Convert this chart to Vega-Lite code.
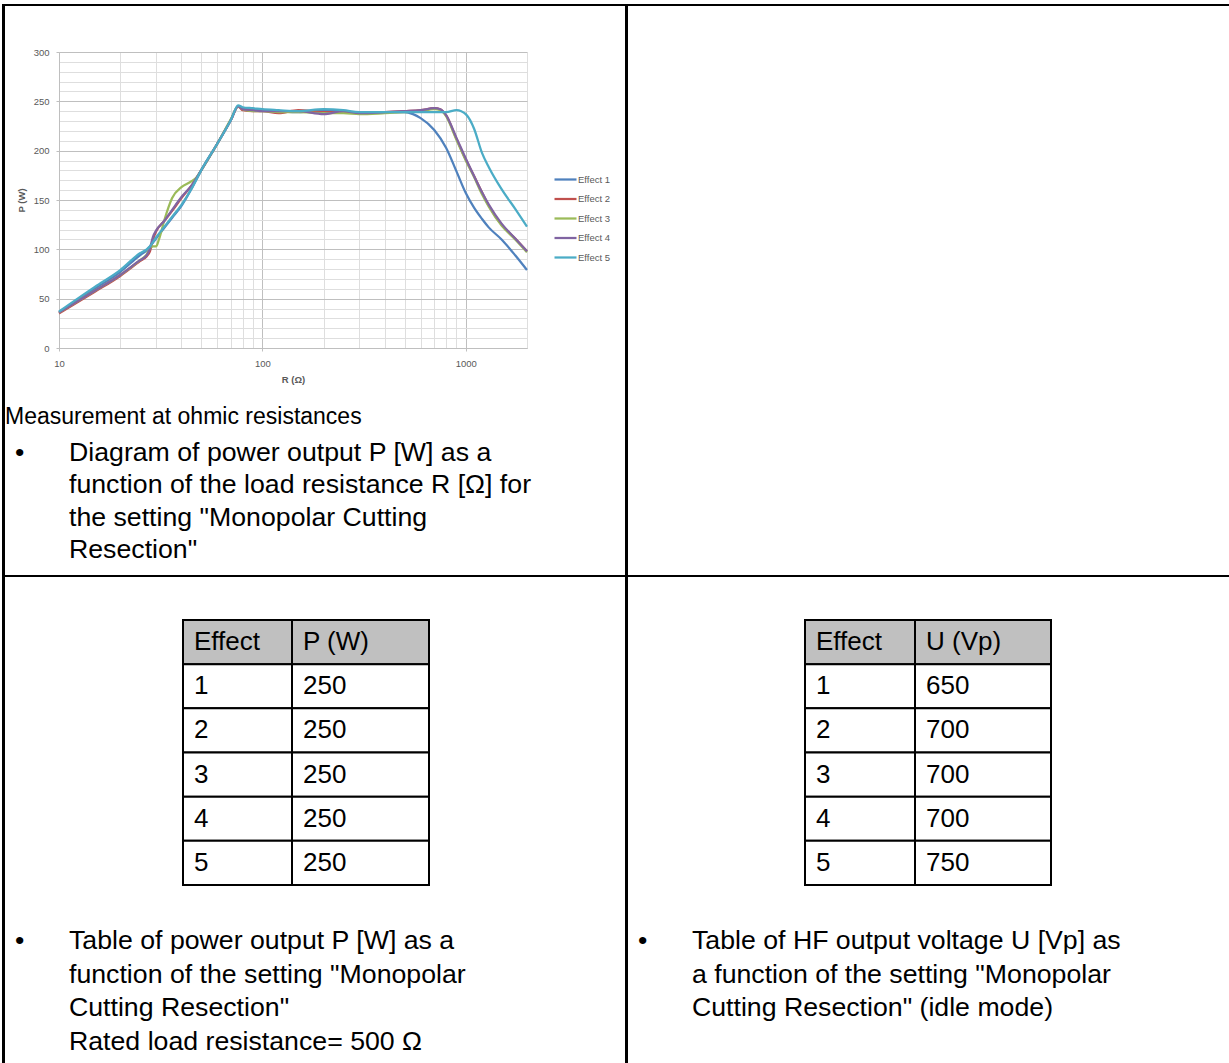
{
 "$schema": "https://vega.github.io/schema/vega-lite/v6.json",
 "background": "#ffffff",
 "padding": {"left": 2, "top": 4, "right": 0, "bottom": 0},
 "spacing": 0,
 "bounds": "full",
 "config": {"view": {"stroke": null}, "font": "Liberation Sans", "concat": {"spacing": 0}, "text": {"font": "Liberation Sans"}},
 "datasets": {
  "curves": [
   {"e":"Effect 1","R":10,"P":36},{"e":"Effect 1","R":15,"P":60},{"e":"Effect 1","R":20,"P":77},{"e":"Effect 1","R":25,"P":94},{"e":"Effect 1","R":27,"P":99},{"e":"Effect 1","R":28,"P":103},{"e":"Effect 1","R":30,"P":111},{"e":"Effect 1","R":33,"P":122},{"e":"Effect 1","R":36,"P":132},{"e":"Effect 1","R":40,"P":144},{"e":"Effect 1","R":45,"P":162},{"e":"Effect 1","R":50,"P":180},{"e":"Effect 1","R":60,"P":207},{"e":"Effect 1","R":70,"P":231},{"e":"Effect 1","R":76,"P":245},{"e":"Effect 1","R":80,"P":243},{"e":"Effect 1","R":90,"P":242},{"e":"Effect 1","R":100,"P":241},{"e":"Effect 1","R":120,"P":240},{"e":"Effect 1","R":150,"P":239},{"e":"Effect 1","R":200,"P":241},{"e":"Effect 1","R":250,"P":240},{"e":"Effect 1","R":300,"P":238},{"e":"Effect 1","R":400,"P":239},{"e":"Effect 1","R":500,"P":239},{"e":"Effect 1","R":550,"P":237},{"e":"Effect 1","R":600,"P":233},{"e":"Effect 1","R":700,"P":221},{"e":"Effect 1","R":800,"P":203},{"e":"Effect 1","R":900,"P":179},{"e":"Effect 1","R":1000,"P":157},{"e":"Effect 1","R":1100,"P":142},{"e":"Effect 1","R":1200,"P":131},{"e":"Effect 1","R":1300,"P":122},{"e":"Effect 1","R":1500,"P":110},{"e":"Effect 1","R":1750,"P":94},{"e":"Effect 1","R":2000,"P":79},
   {"e":"Effect 2","R":10,"P":35},{"e":"Effect 2","R":15,"P":57},{"e":"Effect 2","R":20,"P":73},{"e":"Effect 2","R":25,"P":88},{"e":"Effect 2","R":27,"P":93},{"e":"Effect 2","R":28,"P":98},{"e":"Effect 2","R":29,"P":110},{"e":"Effect 2","R":30,"P":118},{"e":"Effect 2","R":33,"P":129},{"e":"Effect 2","R":36,"P":139},{"e":"Effect 2","R":40,"P":152},{"e":"Effect 2","R":45,"P":165},{"e":"Effect 2","R":50,"P":180},{"e":"Effect 2","R":60,"P":207},{"e":"Effect 2","R":70,"P":231},{"e":"Effect 2","R":76,"P":245},{"e":"Effect 2","R":80,"P":241},{"e":"Effect 2","R":90,"P":240},{"e":"Effect 2","R":100,"P":240},{"e":"Effect 2","R":120,"P":238},{"e":"Effect 2","R":150,"P":241},{"e":"Effect 2","R":200,"P":239},{"e":"Effect 2","R":250,"P":239},{"e":"Effect 2","R":300,"P":238},{"e":"Effect 2","R":400,"P":239},{"e":"Effect 2","R":500,"P":240},{"e":"Effect 2","R":600,"P":241},{"e":"Effect 2","R":700,"P":243},{"e":"Effect 2","R":750,"P":242},{"e":"Effect 2","R":800,"P":236},{"e":"Effect 2","R":900,"P":212},{"e":"Effect 2","R":1000,"P":191},{"e":"Effect 2","R":1100,"P":174},{"e":"Effect 2","R":1200,"P":158},{"e":"Effect 2","R":1300,"P":144},{"e":"Effect 2","R":1500,"P":125},{"e":"Effect 2","R":1750,"P":111},{"e":"Effect 2","R":2000,"P":98},
   {"e":"Effect 3","R":10,"P":36},{"e":"Effect 3","R":15,"P":58},{"e":"Effect 3","R":20,"P":74},{"e":"Effect 3","R":25,"P":89},{"e":"Effect 3","R":27,"P":95},{"e":"Effect 3","R":28,"P":101},{"e":"Effect 3","R":29,"P":103},{"e":"Effect 3","R":30,"P":103},{"e":"Effect 3","R":31,"P":110},{"e":"Effect 3","R":33,"P":130},{"e":"Effect 3","R":36,"P":152},{"e":"Effect 3","R":40,"P":163},{"e":"Effect 3","R":44,"P":168},{"e":"Effect 3","R":47,"P":172},{"e":"Effect 3","R":50,"P":180},{"e":"Effect 3","R":60,"P":207},{"e":"Effect 3","R":70,"P":232},{"e":"Effect 3","R":76,"P":245},{"e":"Effect 3","R":80,"P":242},{"e":"Effect 3","R":90,"P":240},{"e":"Effect 3","R":100,"P":240},{"e":"Effect 3","R":120,"P":239},{"e":"Effect 3","R":150,"P":239},{"e":"Effect 3","R":200,"P":238},{"e":"Effect 3","R":250,"P":238},{"e":"Effect 3","R":300,"P":237},{"e":"Effect 3","R":400,"P":238},{"e":"Effect 3","R":500,"P":239},{"e":"Effect 3","R":600,"P":240},{"e":"Effect 3","R":700,"P":242},{"e":"Effect 3","R":750,"P":241},{"e":"Effect 3","R":800,"P":235},{"e":"Effect 3","R":900,"P":211},{"e":"Effect 3","R":1000,"P":190},{"e":"Effect 3","R":1100,"P":173},{"e":"Effect 3","R":1200,"P":156},{"e":"Effect 3","R":1300,"P":143},{"e":"Effect 3","R":1500,"P":124},{"e":"Effect 3","R":1750,"P":110},{"e":"Effect 3","R":2000,"P":97},
   {"e":"Effect 4","R":10,"P":36},{"e":"Effect 4","R":15,"P":58},{"e":"Effect 4","R":20,"P":74},{"e":"Effect 4","R":25,"P":89},{"e":"Effect 4","R":27,"P":94},{"e":"Effect 4","R":28,"P":101},{"e":"Effect 4","R":29,"P":113},{"e":"Effect 4","R":30,"P":119},{"e":"Effect 4","R":33,"P":129},{"e":"Effect 4","R":36,"P":140},{"e":"Effect 4","R":40,"P":153},{"e":"Effect 4","R":45,"P":165},{"e":"Effect 4","R":50,"P":180},{"e":"Effect 4","R":60,"P":207},{"e":"Effect 4","R":70,"P":231},{"e":"Effect 4","R":76,"P":245},{"e":"Effect 4","R":80,"P":242},{"e":"Effect 4","R":90,"P":241},{"e":"Effect 4","R":100,"P":240},{"e":"Effect 4","R":120,"P":240},{"e":"Effect 4","R":150,"P":240},{"e":"Effect 4","R":200,"P":237},{"e":"Effect 4","R":250,"P":240},{"e":"Effect 4","R":300,"P":238},{"e":"Effect 4","R":400,"P":239},{"e":"Effect 4","R":500,"P":240},{"e":"Effect 4","R":600,"P":241},{"e":"Effect 4","R":700,"P":243},{"e":"Effect 4","R":750,"P":242},{"e":"Effect 4","R":800,"P":236},{"e":"Effect 4","R":900,"P":213},{"e":"Effect 4","R":1000,"P":192},{"e":"Effect 4","R":1100,"P":174},{"e":"Effect 4","R":1200,"P":158},{"e":"Effect 4","R":1300,"P":145},{"e":"Effect 4","R":1500,"P":126},{"e":"Effect 4","R":1750,"P":111},{"e":"Effect 4","R":2000,"P":98},
   {"e":"Effect 5","R":10,"P":37},{"e":"Effect 5","R":15,"P":62},{"e":"Effect 5","R":20,"P":79},{"e":"Effect 5","R":25,"P":96},{"e":"Effect 5","R":27,"P":100},{"e":"Effect 5","R":28,"P":103},{"e":"Effect 5","R":30,"P":112},{"e":"Effect 5","R":33,"P":123},{"e":"Effect 5","R":36,"P":133},{"e":"Effect 5","R":40,"P":145},{"e":"Effect 5","R":45,"P":162},{"e":"Effect 5","R":50,"P":180},{"e":"Effect 5","R":60,"P":207},{"e":"Effect 5","R":70,"P":231},{"e":"Effect 5","R":76,"P":246},{"e":"Effect 5","R":80,"P":244},{"e":"Effect 5","R":90,"P":243},{"e":"Effect 5","R":100,"P":242},{"e":"Effect 5","R":120,"P":241},{"e":"Effect 5","R":150,"P":240},{"e":"Effect 5","R":200,"P":242},{"e":"Effect 5","R":250,"P":241},{"e":"Effect 5","R":300,"P":239},{"e":"Effect 5","R":400,"P":239},{"e":"Effect 5","R":500,"P":239},{"e":"Effect 5","R":600,"P":239},{"e":"Effect 5","R":700,"P":239},{"e":"Effect 5","R":800,"P":239},{"e":"Effect 5","R":900,"P":241},{"e":"Effect 5","R":950,"P":240},{"e":"Effect 5","R":1000,"P":237},{"e":"Effect 5","R":1050,"P":231},{"e":"Effect 5","R":1100,"P":222},{"e":"Effect 5","R":1200,"P":198},{"e":"Effect 5","R":1300,"P":183},{"e":"Effect 5","R":1500,"P":161},{"e":"Effect 5","R":1750,"P":141},{"e":"Effect 5","R":2000,"P":123}
  ],
  "tP": [{"row":0,"c1":"Effect","c2":"P (W)"},{"row":1,"c1":"1","c2":"250"},{"row":2,"c1":"2","c2":"250"},{"row":3,"c1":"3","c2":"250"},{"row":4,"c1":"4","c2":"250"},{"row":5,"c1":"5","c2":"250"}],
  "tU": [{"row":0,"c1":"Effect","c2":"U (Vp)"},{"row":1,"c1":"1","c2":"650"},{"row":2,"c1":"2","c2":"700"},{"row":3,"c1":"3","c2":"700"},{"row":4,"c1":"4","c2":"700"},{"row":5,"c1":"5","c2":"750"}]
 },
 "vconcat": [
  {"width": 1227, "height": 2, "data": {"values": []}, "mark": "point", "encoding": {}, "view": {"fill": "#000000", "stroke": null}},
  {"hconcat": [
    {"width": 3, "height": 395, "data": {"values": []}, "mark": "point", "encoding": {}, "view": {"fill": "#000000", "stroke": null}},
    {"width": 54, "height": 395, "data": {"values": []}, "mark": "point", "encoding": {}},
    {"width": 468, "height": 342,
     "data": {"name": "curves"},
     "layer": [
      {"mark": {"type": "line", "interpolate": "monotone", "strokeWidth": 2.25},
       "encoding": {
        "x": {"field": "R", "type": "quantitative",
              "scale": {"type": "log", "domain": [10, 2000], "nice": false},
              "axis": {"orient": "top", "title": null, "labels": false, "ticks": false, "domain": false, "grid": true,
                       "values": [10,20,30,40,50,60,70,80,90,100,200,300,400,500,600,700,800,900,1000,2000],
                       "gridColor": {"condition": {"test": "datum.value == 10 || datum.value == 100 || datum.value == 1000", "value": "#bfbfbf"}, "value": "#dedede"}}},
        "y": {"field": "P", "type": "quantitative",
              "scale": {"domain": [0, 300], "nice": false, "range": [342, 46]},
              "axis": {"title": "P (W)", "titleFontSize": 9.5, "titleFontWeight": "bold", "titleColor": "#595959", "titlePadding": 7,
                       "values": [0,10,20,30,40,50,60,70,80,90,100,110,120,130,140,150,160,170,180,190,200,210,220,230,240,250,260,270,280,290,300],
                       "labelExpr": "datum.value % 50 == 0 ? datum.label : ''",
                       "labelFontSize": 9.5, "labelColor": "#595959", "labelPadding": 7, "labelOverlap": false, "labelFlush": false,
                       "tickSize": 3, "tickColor": {"condition": {"test": "datum.value % 50 == 0", "value": "#bfbfbf"}, "value": "transparent"},
                       "domainColor": "#bfbfbf", "grid": true,
                       "gridColor": {"condition": {"test": "datum.value % 50 == 0", "value": "#bfbfbf"}, "value": "#dedede"}}},
        "color": {"field": "e", "type": "nominal",
                  "scale": {"domain": ["Effect 1","Effect 2","Effect 3","Effect 4","Effect 5"], "range": ["#4F81BD","#C0504D","#9BBB59","#8064A2","#4BACC6"]},
                  "legend": {"orient": "none", "legendX": 551, "legendY": 163, "title": null, "padding": 0,
                             "symbolType": "stroke", "symbolSize": 484, "symbolStrokeWidth": 2.25,
                             "labelFontSize": 9.5, "labelColor": "#595959", "labelOffset": 0, "rowPadding": 2.5}}
       }},
      {"mark": {"type": "point", "opacity": 0},
       "encoding": {
        "x": {"field": "R", "type": "quantitative",
              "axis": {"orient": "bottom", "title": "R (Ω)", "titleFontSize": 9.5, "titleFontWeight": "bold", "titleColor": "#595959", "titlePadding": 7,
                       "values": [10,20,30,40,50,60,70,80,90,100,200,300,400,500,600,700,800,900,1000,2000],
                       "format": "d", "grid": false,
                       "labelExpr": "(datum.value == 10 || datum.value == 100 || datum.value == 1000) ? datum.label : ''",
                       "labelFontSize": 9.5, "labelColor": "#595959", "labelPadding": 7, "labelFlush": false, "labelOverlap": false,
                       "tickSize": 3, "tickColor": {"condition": {"test": "datum.value == 10 || datum.value == 100 || datum.value == 1000", "value": "#bfbfbf"}, "value": "transparent"},
                       "domainColor": "#bfbfbf"}},
        "y": {"field": "P", "type": "quantitative",
              "axis": {"title": "P (W)", "titleFontSize": 9.5, "titleFontWeight": "bold", "titleColor": "#595959", "titlePadding": 7,
                       "values": [0,10,20,30,40,50,60,70,80,90,100,110,120,130,140,150,160,170,180,190,200,210,220,230,240,250,260,270,280,290,300],
                       "labelExpr": "datum.value % 50 == 0 ? datum.label : ''",
                       "labelFontSize": 9.5, "labelColor": "#595959", "labelPadding": 7, "labelOverlap": false, "labelFlush": false,
                       "tickSize": 3, "tickColor": {"condition": {"test": "datum.value % 50 == 0", "value": "#bfbfbf"}, "value": "transparent"},
                       "domainColor": "#bfbfbf", "grid": true,
                       "gridColor": {"condition": {"test": "datum.value % 50 == 0", "value": "#bfbfbf"}, "value": "#dedede"}}}
       }}
     ],
     "resolve": {"axis": {"x": "independent"}}},
    {"width": 98, "height": 395, "data": {"values": []}, "mark": "point", "encoding": {}},
    {"width": 3, "height": 395, "data": {"values": []}, "mark": "point", "encoding": {}, "view": {"fill": "#000000", "stroke": null}},
    {"width": 601, "height": 395, "data": {"values": []}, "mark": "point", "encoding": {}}
  ], "spacing": 0, "bounds": "flush"},
  {"hconcat": [
    {"width": 3, "height": 36, "data": {"values": []}, "mark": "point", "encoding": {}, "view": {"fill": "#000000", "stroke": null}},
    {"width": 620, "height": 32,
     "data": {"values": [{"line": 1, "t": "Measurement at ohmic resistances"}]},
     "mark": {"type": "text", "align": "left", "baseline": "middle", "fontSize": 23, "color": "#000000"},
     "encoding": {"x": {"value": 0}, "y": {"field": "line", "type": "ordinal", "axis": null, "scale": {"type": "point", "padding": 0.5}}, "text": {"field": "t"}}},
    {"width": 3, "height": 36, "data": {"values": []}, "mark": "point", "encoding": {}, "view": {"fill": "#000000", "stroke": null}},
    {"width": 601, "height": 36, "data": {"values": []}, "mark": "point", "encoding": {}}
  ], "spacing": 0, "bounds": "flush"},
  {"hconcat": [
    {"width": 3, "height": 138, "data": {"values": []}, "mark": "point", "encoding": {}, "view": {"fill": "#000000", "stroke": null}},
    {"width": 10, "height": 138, "data": {"values": []}, "mark": "point", "encoding": {}},
    {"width": 54, "height": 32,
     "data": {"values": [{"line": 1, "t": "•"}]},
     "mark": {"type": "text", "align": "left", "baseline": "middle", "fontSize": 26.7, "color": "#000000"},
     "encoding": {"x": {"value": 0}, "y": {"field": "line", "type": "ordinal", "axis": null, "scale": {"type": "point", "padding": 0.5}}, "text": {"field": "t"}}},
    {"width": 556, "height": 129,
     "data": {"values": [
       {"line": 1, "t": "Diagram of power output P [W] as a"},
       {"line": 2, "t": "function of the load resistance R [Ω] for"},
       {"line": 3, "t": "the setting \"Monopolar Cutting"},
       {"line": 4, "t": "Resection\""}]},
     "mark": {"type": "text", "align": "left", "baseline": "middle", "fontSize": 26.7, "color": "#000000"},
     "encoding": {"x": {"value": 0}, "y": {"field": "line", "type": "ordinal", "axis": null, "scale": {"type": "point", "padding": 0.5}}, "text": {"field": "t"}}},
    {"width": 3, "height": 138, "data": {"values": []}, "mark": "point", "encoding": {}, "view": {"fill": "#000000", "stroke": null}},
    {"width": 601, "height": 138, "data": {"values": []}, "mark": "point", "encoding": {}}
  ], "spacing": 0, "bounds": "flush"},
  {"width": 1227, "height": 2, "data": {"values": []}, "mark": "point", "encoding": {}, "view": {"fill": "#000000", "stroke": null}},
  {"hconcat": [
    {"width": 3, "height": 347, "data": {"values": []}, "mark": "point", "encoding": {}, "view": {"fill": "#000000", "stroke": null}},
    {"width": 178, "height": 347, "data": {"values": []}, "mark": "point", "encoding": {}},
    {"width": 109, "height": 308, "data": {"name": "tP"},
     "layer": [
      {"mark": {"type": "rect", "stroke": "#000000", "strokeWidth": 2},
       "encoding": {"x": {"value": 0}, "x2": {"value": "width"}, "y": {"field": "row", "type": "ordinal", "axis": null, "scale": {"range": [43, 308], "paddingInner": 0, "paddingOuter": 0}},
                    "fill": {"condition": {"test": "datum.row == 0", "value": "#c0c0c0"}, "value": "#ffffff"}}},
      {"mark": {"type": "text", "align": "left", "baseline": "middle", "dx": 11, "fontSize": 26, "color": "#000000"},
       "encoding": {"x": {"value": 0}, "y": {"field": "row", "type": "ordinal", "axis": null}, "text": {"field": "c1"}}}
     ]},
    {"width": 137, "height": 308, "data": {"name": "tP"},
     "layer": [
      {"mark": {"type": "rect", "stroke": "#000000", "strokeWidth": 2},
       "encoding": {"x": {"value": 0}, "x2": {"value": "width"}, "y": {"field": "row", "type": "ordinal", "axis": null, "scale": {"range": [43, 308], "paddingInner": 0, "paddingOuter": 0}},
                    "fill": {"condition": {"test": "datum.row == 0", "value": "#c0c0c0"}, "value": "#ffffff"}}},
      {"mark": {"type": "text", "align": "left", "baseline": "middle", "dx": 11, "fontSize": 26, "color": "#000000"},
       "encoding": {"x": {"value": 0}, "y": {"field": "row", "type": "ordinal", "axis": null}, "text": {"field": "c2"}}}
     ]},
    {"width": 196, "height": 347, "data": {"values": []}, "mark": "point", "encoding": {}},
    {"width": 3, "height": 347, "data": {"values": []}, "mark": "point", "encoding": {}, "view": {"fill": "#000000", "stroke": null}},
    {"width": 177, "height": 347, "data": {"values": []}, "mark": "point", "encoding": {}},
    {"width": 110, "height": 308, "data": {"name": "tU"},
     "layer": [
      {"mark": {"type": "rect", "stroke": "#000000", "strokeWidth": 2},
       "encoding": {"x": {"value": 0}, "x2": {"value": "width"}, "y": {"field": "row", "type": "ordinal", "axis": null, "scale": {"range": [43, 308], "paddingInner": 0, "paddingOuter": 0}},
                    "fill": {"condition": {"test": "datum.row == 0", "value": "#c0c0c0"}, "value": "#ffffff"}}},
      {"mark": {"type": "text", "align": "left", "baseline": "middle", "dx": 11, "fontSize": 26, "color": "#000000"},
       "encoding": {"x": {"value": 0}, "y": {"field": "row", "type": "ordinal", "axis": null}, "text": {"field": "c1"}}}
     ]},
    {"width": 136, "height": 308, "data": {"name": "tU"},
     "layer": [
      {"mark": {"type": "rect", "stroke": "#000000", "strokeWidth": 2},
       "encoding": {"x": {"value": 0}, "x2": {"value": "width"}, "y": {"field": "row", "type": "ordinal", "axis": null, "scale": {"range": [43, 308], "paddingInner": 0, "paddingOuter": 0}},
                    "fill": {"condition": {"test": "datum.row == 0", "value": "#c0c0c0"}, "value": "#ffffff"}}},
      {"mark": {"type": "text", "align": "left", "baseline": "middle", "dx": 11, "fontSize": 26, "color": "#000000"},
       "encoding": {"x": {"value": 0}, "y": {"field": "row", "type": "ordinal", "axis": null}, "text": {"field": "c2"}}}
     ]},
    {"width": 175, "height": 347, "data": {"values": []}, "mark": "point", "encoding": {}}
  ], "spacing": 0, "bounds": "flush"},
  {"hconcat": [
    {"width": 3, "height": 145, "data": {"values": []}, "mark": "point", "encoding": {}, "view": {"fill": "#000000", "stroke": null}},
    {"width": 10, "height": 145, "data": {"values": []}, "mark": "point", "encoding": {}},
    {"width": 54, "height": 34,
     "data": {"values": [{"line": 1, "t": "•"}]},
     "mark": {"type": "text", "align": "left", "baseline": "middle", "fontSize": 26.7, "color": "#000000"},
     "encoding": {"x": {"value": 0}, "y": {"field": "line", "type": "ordinal", "axis": null, "scale": {"type": "point", "padding": 0.5}}, "text": {"field": "t"}}},
    {"width": 556, "height": 135,
     "data": {"values": [
       {"line": 1, "t": "Table of power output P [W] as a"},
       {"line": 2, "t": "function of the setting \"Monopolar"},
       {"line": 3, "t": "Cutting Resection\""},
       {"line": 4, "t": "Rated load resistance= 500 Ω"}]},
     "mark": {"type": "text", "align": "left", "baseline": "middle", "fontSize": 26.7, "color": "#000000"},
     "encoding": {"x": {"value": 0}, "y": {"field": "line", "type": "ordinal", "axis": null, "scale": {"type": "point", "padding": 0.5}}, "text": {"field": "t"}}},
    {"width": 3, "height": 145, "data": {"values": []}, "mark": "point", "encoding": {}, "view": {"fill": "#000000", "stroke": null}},
    {"width": 10, "height": 145, "data": {"values": []}, "mark": "point", "encoding": {}},
    {"width": 54, "height": 34,
     "data": {"values": [{"line": 1, "t": "•"}]},
     "mark": {"type": "text", "align": "left", "baseline": "middle", "fontSize": 26.7, "color": "#000000"},
     "encoding": {"x": {"value": 0}, "y": {"field": "line", "type": "ordinal", "axis": null, "scale": {"type": "point", "padding": 0.5}}, "text": {"field": "t"}}},
    {"width": 534, "height": 101,
     "data": {"values": [
       {"line": 1, "t": "Table of HF output voltage U [Vp] as"},
       {"line": 2, "t": "a function of the setting \"Monopolar"},
       {"line": 3, "t": "Cutting Resection\" (idle mode)"}]},
     "mark": {"type": "text", "align": "left", "baseline": "middle", "fontSize": 26.7, "color": "#000000"},
     "encoding": {"x": {"value": 0}, "y": {"field": "line", "type": "ordinal", "axis": null, "scale": {"type": "point", "padding": 0.5}}, "text": {"field": "t"}}}
  ], "spacing": 0, "bounds": "flush"}
 ]
}
